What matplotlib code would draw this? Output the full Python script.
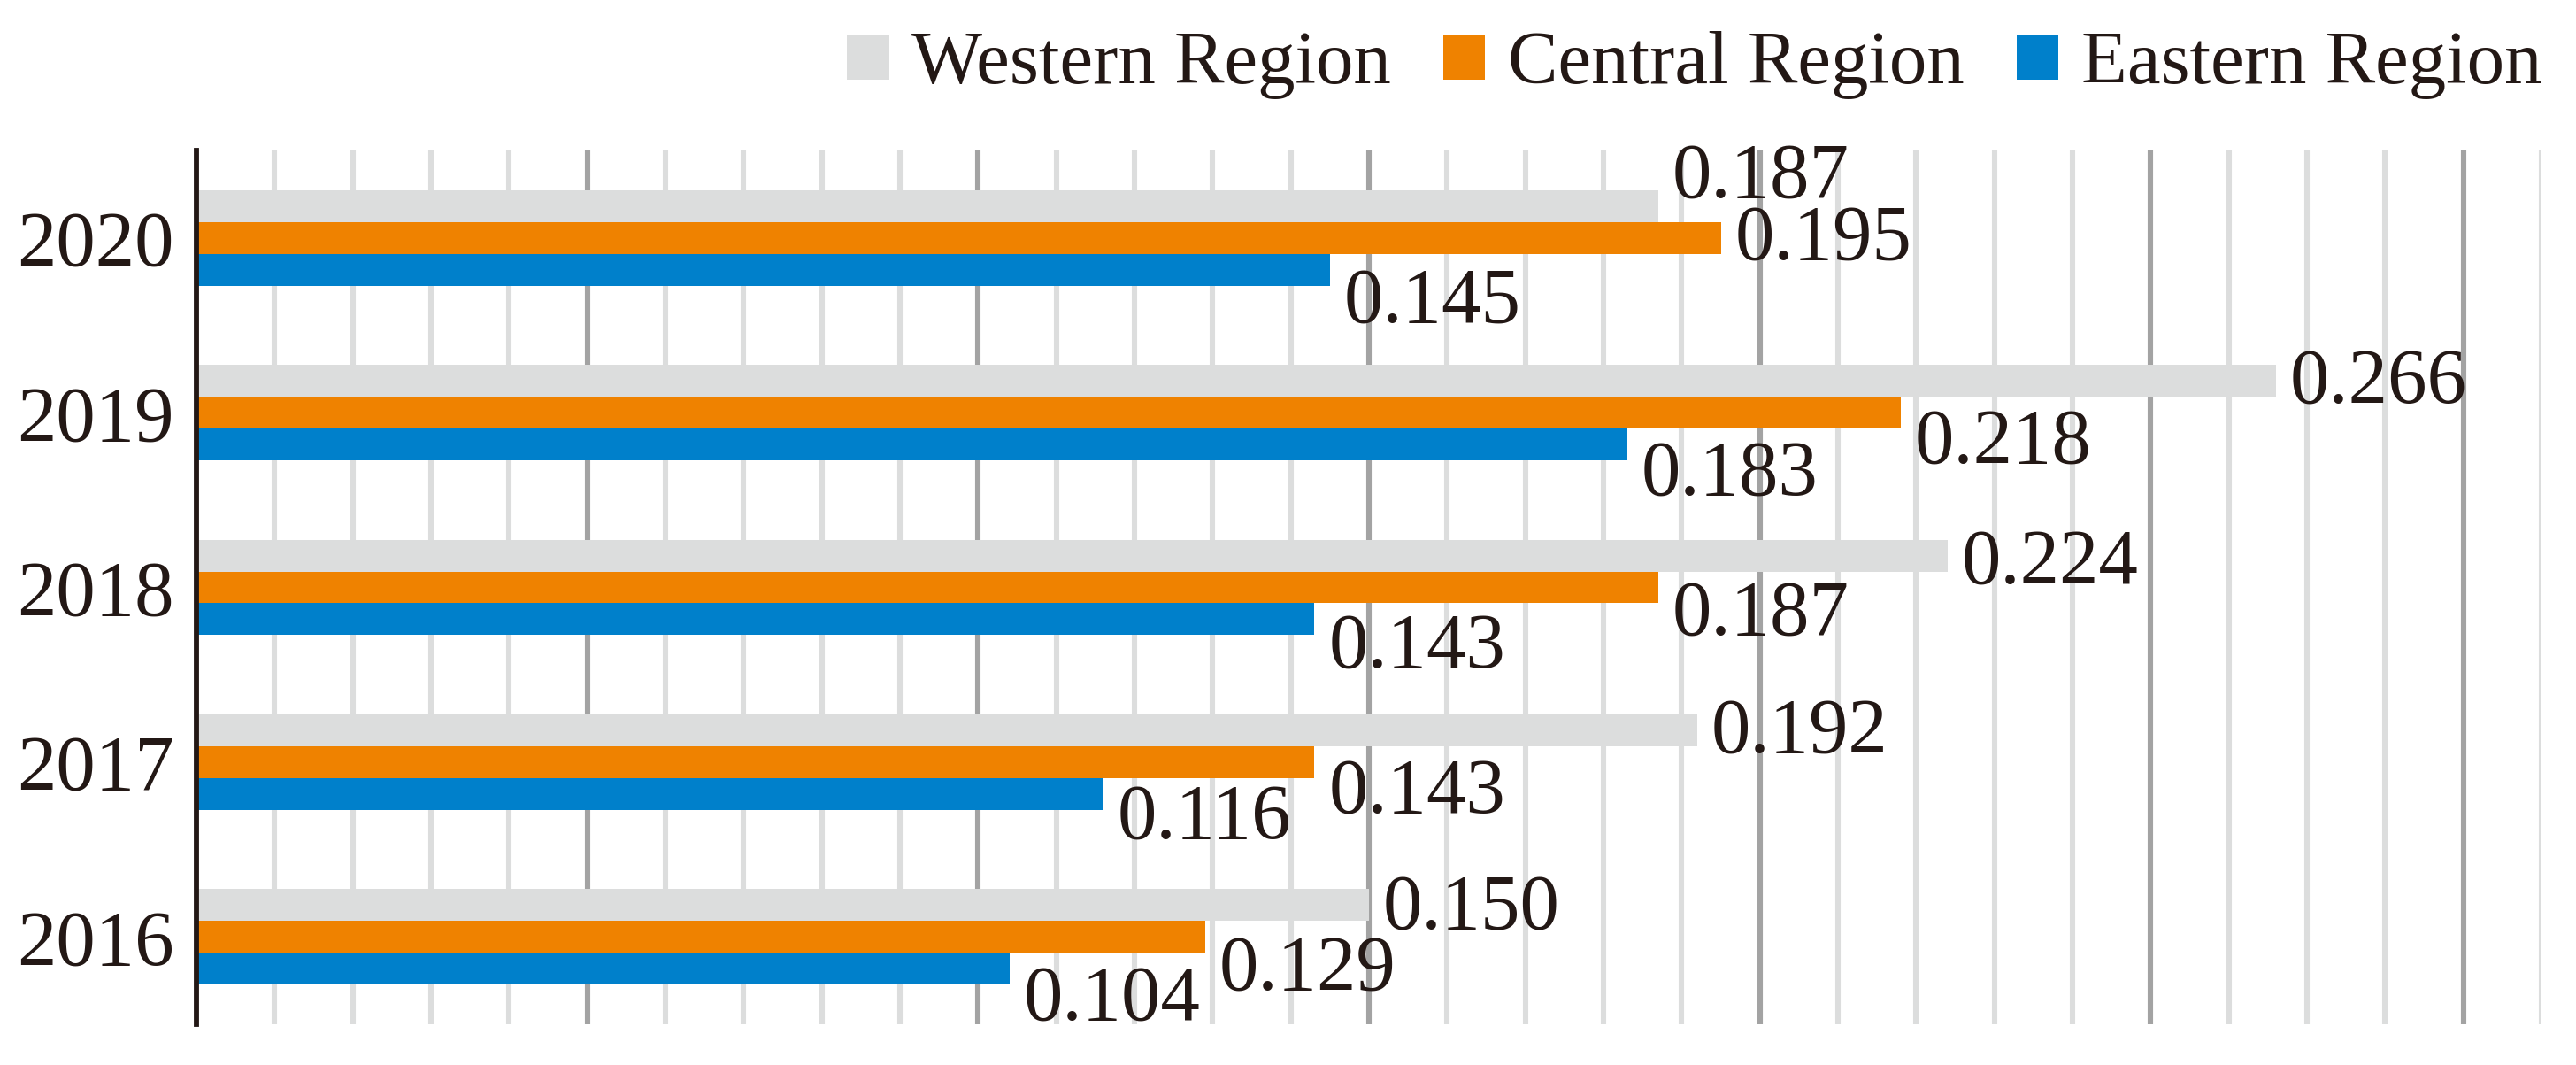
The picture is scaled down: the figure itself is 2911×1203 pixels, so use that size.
import numpy as np
import matplotlib.pyplot as plt
from matplotlib.ticker import FixedLocator

# data
years = ["2016", "2017", "2018", "2019", "2020"]
western = [0.150, 0.192, 0.224, 0.266, 0.187]
central = [0.129, 0.143, 0.187, 0.218, 0.195]
eastern = [0.104, 0.116, 0.143, 0.183, 0.145]
series_names = ["Western Region", "Central Region", "Eastern Region"]

# vertical shift of each value label (pixels, + = down), to avoid overlaps
shift_w = [-3, -5, 1, -5, -40]
shift_c = [30, 27, 24, 27, -6]
shift_e = [28, 20, 25, 27, 29]

col_w = "#dcdddd"
col_c = "#ef8200"
col_e = "#0080cb"
txt = "#231815"

DPI = 200
plt.rcParams["font.family"] = ["Liberation Serif", "DejaVu Serif"]
plt.rcParams["font.size"] = 32

fig = plt.figure(figsize=(2911 / DPI, 1203 / DPI), dpi=DPI)
ax = fig.add_axes([222 / 2911, 1 - 1157 / 1203, (2872 - 222) / 2911, (1157 - 170) / 1203])

y = np.arange(len(years))
h = 0.182
bw = ax.barh(y + h, western, height=h, color=col_w, label=series_names[0], zorder=2)
bc = ax.barh(y, central, height=h, color=col_c, label=series_names[1], zorder=2)
be = ax.barh(y - h, eastern, height=h, color=col_e, label=series_names[2], zorder=2)

ax.set_xlim(0, 0.30)
ax.set_ylim(-0.5, len(years) - 0.5)

# grid: darker lines at majors, light lines at every 0.01
major = [0.05, 0.10, 0.15, 0.20, 0.25, 0.29]
minor = [v for v in np.round(np.arange(0.01, 0.301, 0.01), 2) if v not in major]
ax.xaxis.set_major_locator(FixedLocator(major))
ax.xaxis.set_minor_locator(FixedLocator(minor))
ax.grid(axis="x", which="major", color="#a3a3a3", linewidth=2.2, zorder=0)
ax.grid(axis="x", which="minor", color="#dcdddd", linewidth=2.2, zorder=0)
ax.set_axisbelow(True)
ax.tick_params(axis="x", which="both", length=0, labelbottom=False)

ax.set_yticks(y)
ax.set_yticklabels(years, color=txt)
ax.tick_params(axis="y", length=0, pad=9)

for s in ["top", "right", "bottom"]:
    ax.spines[s].set_visible(False)
ax.spines["left"].set_color(txt)
ax.spines["left"].set_linewidth(2.1)
ax.spines["left"].set_zorder(3)

px = 72 / DPI
for vals, shifts, off in [(western, shift_w, h), (central, shift_c, 0), (eastern, shift_e, -h)]:
    for i, v in enumerate(vals):
        ax.annotate(f"{v:.3f}", xy=(v, y[i] + off), xytext=(16 * px, -(shifts[i] + 29.5) * px),
                    textcoords="offset points", ha="left", va="baseline", color=txt, zorder=4)

fig.legend(handles=[bw, bc, be], labels=series_names, loc="center right",
           bbox_to_anchor=(2872 / 2911, 1 - 74 / 1203), ncol=3, frameon=False,
           fontsize=30.5, handlelength=0.56, handleheight=0.55, handletextpad=0.3,
           columnspacing=0.7, borderpad=0, borderaxespad=0, labelcolor=txt)

fig.savefig("out.png", dpi=DPI)
